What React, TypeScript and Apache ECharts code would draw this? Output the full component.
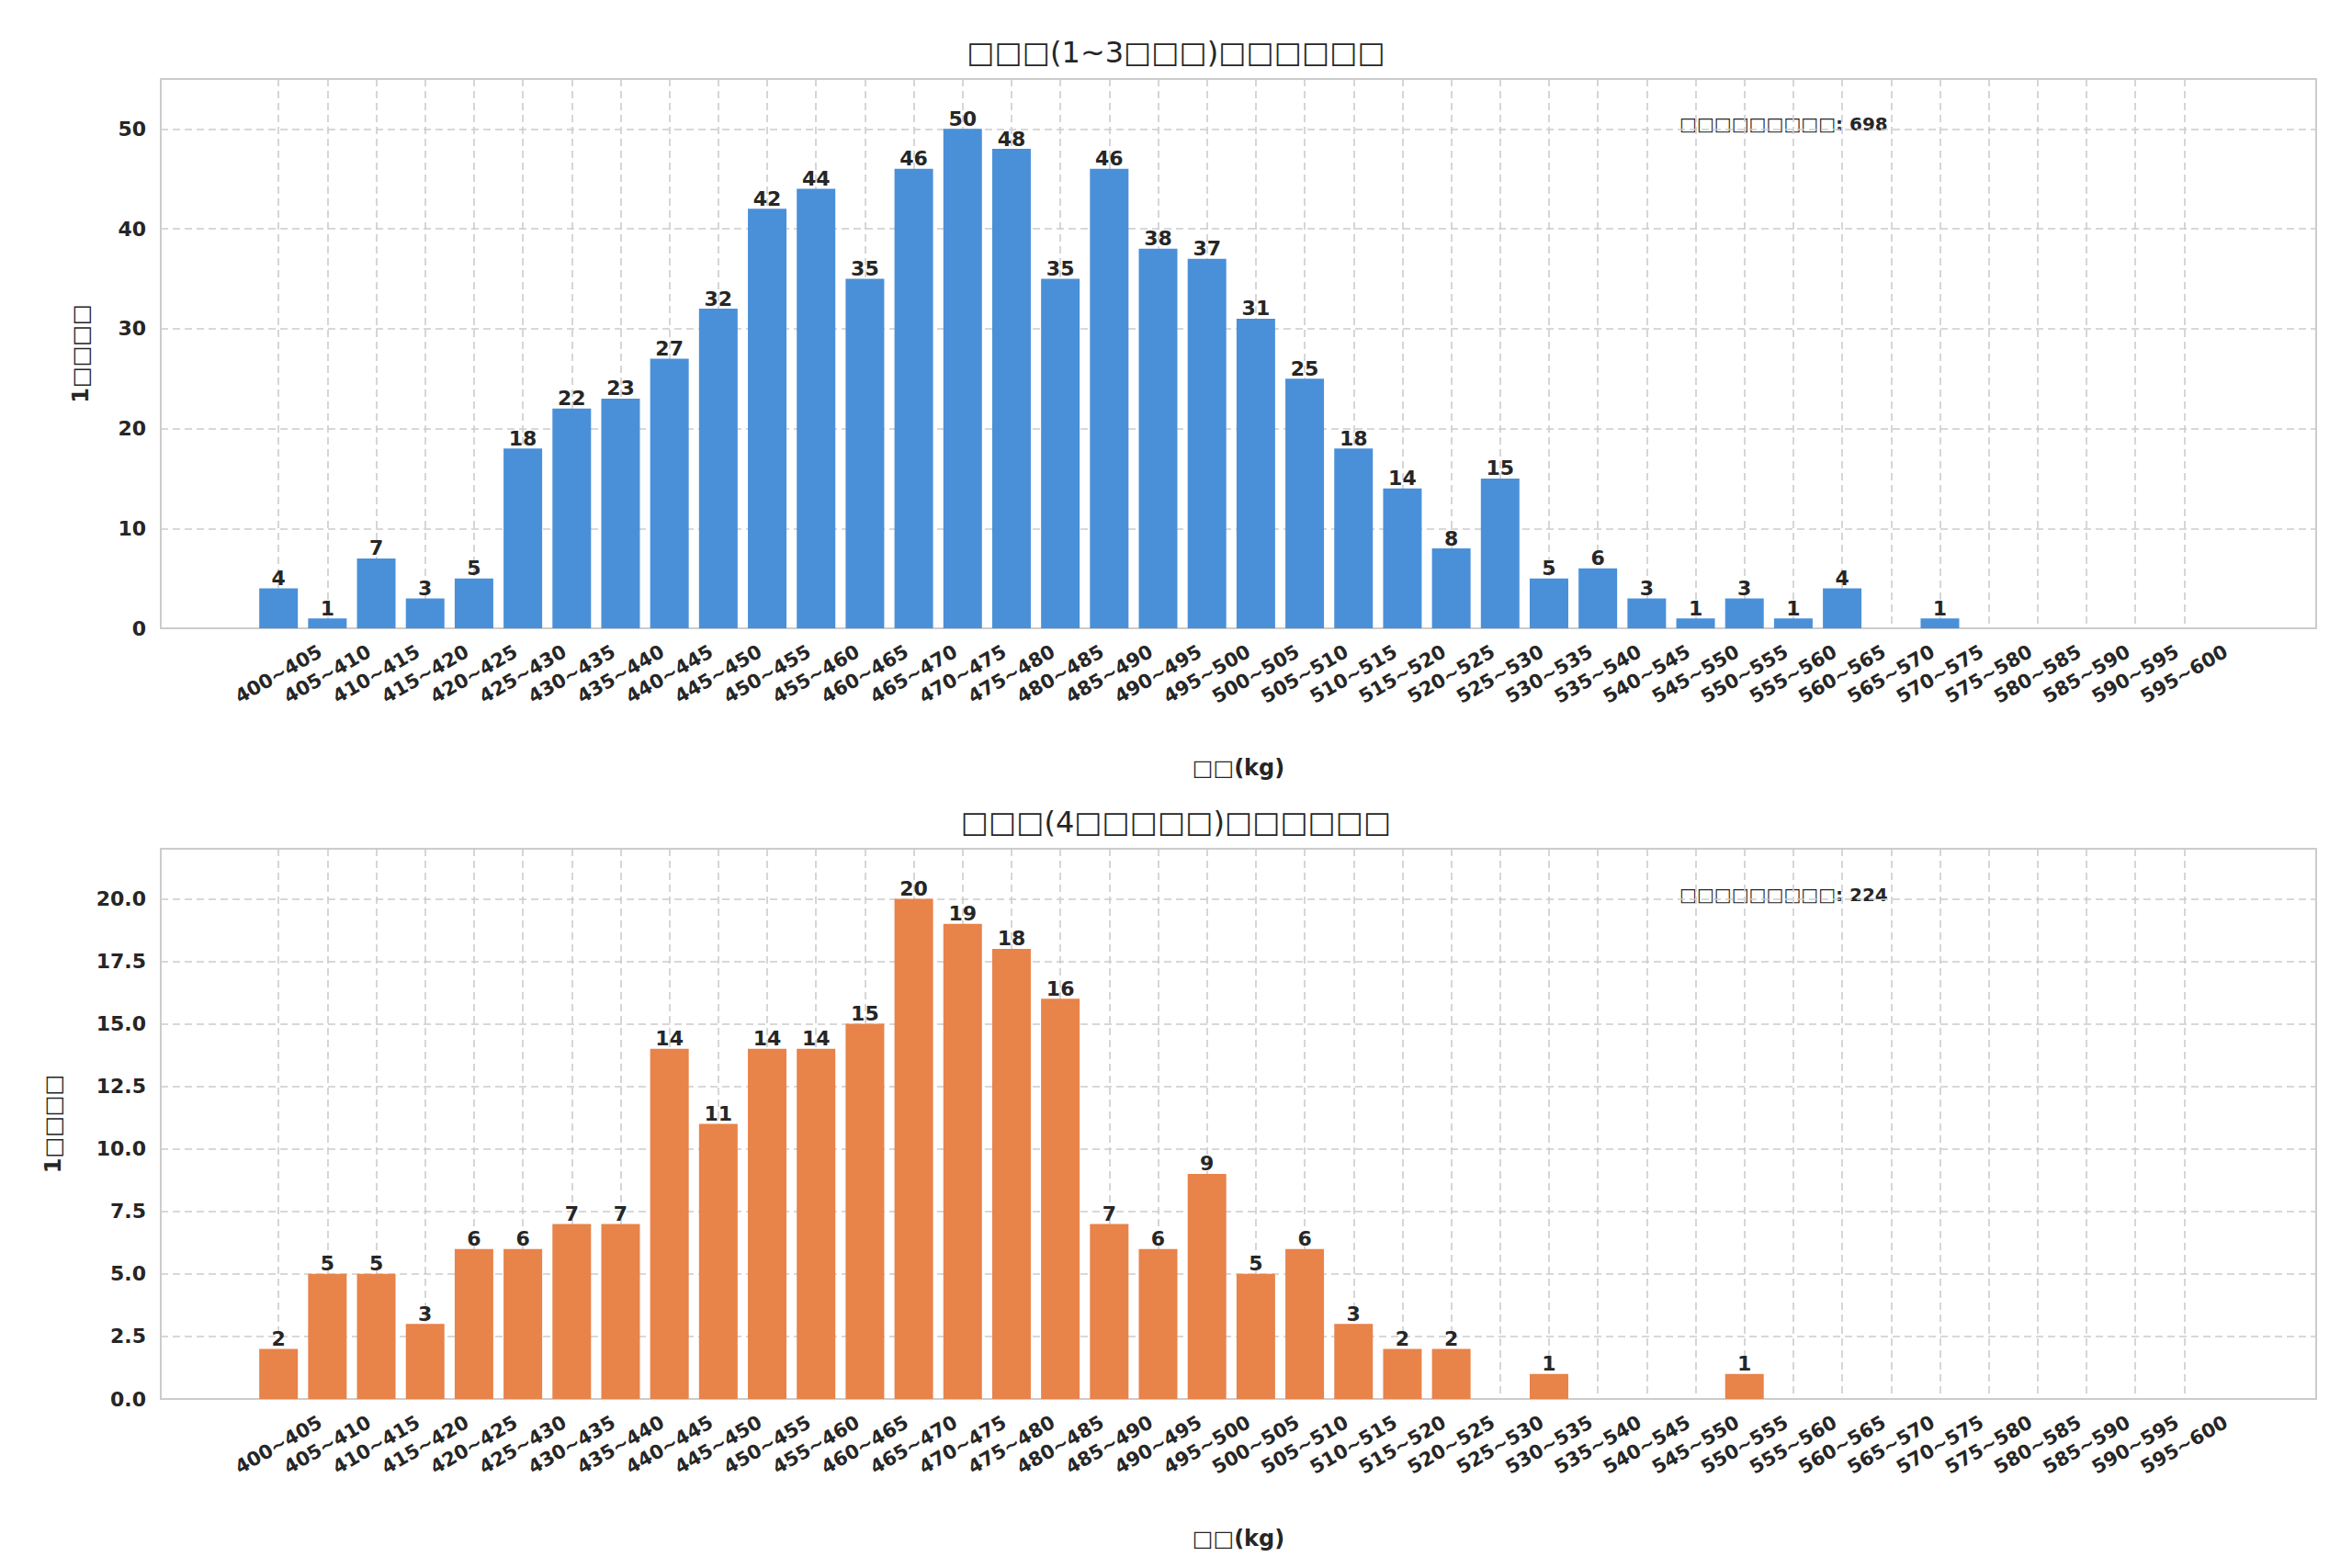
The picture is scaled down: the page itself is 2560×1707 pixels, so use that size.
import React, { useEffect, useRef } from "react";
import * as echarts from "echarts";

const categories: string[] = [];
for (let s = 400; s < 600; s += 5) categories.push(`${s}~${s + 5}`);
const topValues = [4, 1, 7, 3, 5, 18, 22, 23, 27, 32, 42, 44, 35, 46, 50, 48, 35, 46, 38, 37, 31, 25, 18, 14, 8, 15, 5, 6, 3, 1, 3, 1, 4, 0, 1];
const bottomValues = [2, 5, 5, 3, 6, 6, 7, 7, 14, 11, 14, 14, 15, 20, 19, 18, 16, 7, 6, 9, 5, 6, 3, 2, 2, 0, 1, 0, 0, 0, 1];
const topTitle = "□□□(1~3□□□)□□□□□□";
const bottomTitle = "□□□(4□□□□□)□□□□□□";
const xName = "□□(kg)";
const yName = "1□□□□";
const topNote = "□□□□□□□□□: 698";
const bottomNote = "□□□□□□□□□: 224";

const FONT = "DejaVu Sans, sans-serif";
const TXT = "#262626";
const idx = categories.map((_, i) => i);

export default function App() {
  const ref = useRef<HTMLDivElement>(null);
  useEffect(() => {
    const chart = echarts.init(ref.current!, null, { renderer: "svg" });
    const xAxis = (gridIndex: number) => ({
      type: "value", gridIndex, min: -2.41, max: 41.7,
      name: xName, nameLocation: "middle", nameGap: 140,
      nameTextStyle: { fontFamily: FONT, fontWeight: "bold", fontSize: 24, color: TXT },
      axisLine: { show: false },
      axisTick: { show: false, customValues: idx },
      axisLabel: {
        customValues: idx, rotate: 30, align: "center", verticalAlign: "middle", margin: 50,
        formatter: (v: number) => categories[Math.round(v)] ?? "",
        fontFamily: FONT, fontWeight: "bold", fontSize: 21, color: TXT,
      },
      splitLine: { show: true, lineStyle: { color: "#cccccc", type: [8, 5], width: 1.6 } },
    });
    const yAxis = (gridIndex: number, max: number, interval: number, gap: number, dec: boolean) => ({
      type: "value", gridIndex, min: 0, max, interval,
      name: yName, nameLocation: "middle", nameGap: gap, nameRotate: 90,
      nameTextStyle: { fontFamily: FONT, fontWeight: "bold", fontSize: 24, color: TXT },
      axisLine: { show: false }, axisTick: { show: false },
      axisLabel: {
        fontFamily: FONT, fontWeight: "bold", fontSize: 22, color: TXT, margin: 16,
        formatter: (v: number) => (v > max - 1e-9 && max % interval !== 0 ? "" : dec ? v.toFixed(1) : String(v)),
      },
      splitLine: { show: true, lineStyle: { color: "#cccccc", type: [8, 5], width: 1.6 } },
    });
    const bar = (values: number[], i: number, color: string) => ({
      type: "bar", xAxisIndex: i, yAxisIndex: i, barWidth: 42,
      data: values.map((v, k) => [k, v]),
      itemStyle: { color },
      label: {
        show: true, position: "top", distance: 0,
        formatter: (p: any) => (p.value[1] ? String(p.value[1]) : ""),
        fontFamily: FONT, fontWeight: "bold", fontSize: 22, color: TXT,
      },
    });
    chart.setOption({
      animation: false,
      backgroundColor: "#ffffff",
      title: [
        { text: topTitle, left: "center", top: 28, textStyle: { fontFamily: FONT, fontWeight: "normal", fontSize: 32, color: TXT } },
        { text: bottomTitle, left: "center", top: 866, textStyle: { fontFamily: FONT, fontWeight: "normal", fontSize: 32, color: TXT } },
      ],
      grid: [
        { left: 167, right: 31, top: 78, height: 598, show: true, borderColor: "#cccccc", borderWidth: 2, backgroundColor: "transparent" },
        { left: 167, right: 31, top: 916, height: 599, show: true, borderColor: "#cccccc", borderWidth: 2, backgroundColor: "transparent" },
      ],
      xAxis: [xAxis(0), xAxis(1)],
      yAxis: [yAxis(0, 55, 10, 75, false), yAxis(1, 22, 2.5, 105, true)],
      series: [bar(topValues, 0, "#4a90d9"), bar(bottomValues, 1, "#e8834a")],
      graphic: [
        { type: "text", left: 1820, top: 117, style: { text: topNote, fontFamily: FONT, fontWeight: "bold", fontSize: 20, fill: TXT } },
        { type: "text", left: 1820, top: 956, style: { text: bottomNote, fontFamily: FONT, fontWeight: "bold", fontSize: 20, fill: TXT } },
      ],
    });
    return () => chart.dispose();
  }, []);
  return <div ref={ref} style={{ width: 2544, height: 1691 }} />;
}
